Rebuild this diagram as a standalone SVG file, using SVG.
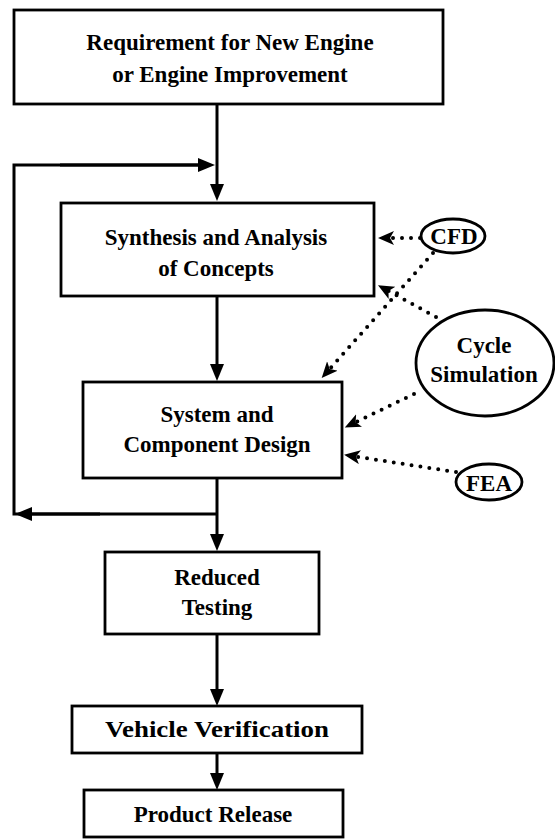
<svg xmlns="http://www.w3.org/2000/svg" width="555" height="839" viewBox="0 0 555 839">
<style>
.box{fill:#fff;stroke:#000;stroke-width:2.8}
.ell{fill:#fff;stroke:#000;stroke-width:2.8}
.t{font-family:"Liberation Serif","Times New Roman",serif;font-weight:bold;font-size:23px;text-anchor:middle;fill:#000}
.solid{fill:none;stroke:#000;stroke-width:3}
.dot{fill:none;stroke:#000;stroke-width:4;stroke-linecap:round;stroke-dasharray:0 9}
</style>
<defs>
<marker id="ah" markerUnits="userSpaceOnUse" markerWidth="18" markerHeight="16" refX="9" refY="7" orient="auto">
<path d="M0,0 L17,7 L0,14 Z" fill="#000"/>
</marker>
<marker id="dh" markerUnits="userSpaceOnUse" markerWidth="18" markerHeight="16" refX="8" refY="7" orient="auto">
<path d="M0,0 L16,7 L0,14 L4,7 Z" fill="#000"/>
</marker>
</defs>
<rect width="555" height="839" fill="#fff"/>
<g id="connectors">
<line class="solid" x1="217" y1="104" x2="217" y2="193" marker-end="url(#ah)"/>
<line class="solid" x1="217" y1="296" x2="217" y2="373" marker-end="url(#ah)"/>
<line class="solid" x1="217" y1="478" x2="217" y2="543" marker-end="url(#ah)"/>
<line class="solid" x1="217" y1="634" x2="217" y2="698" marker-end="url(#ah)"/>
<line class="solid" x1="217" y1="753" x2="217" y2="782" marker-end="url(#ah)"/>
<polyline class="solid" points="217,514 14,514 14,165 206,165"/>
<line class="solid" x1="60" y1="165" x2="207" y2="165" marker-end="url(#ah)"/>
<line class="solid" x1="100" y1="514" x2="23" y2="514" marker-end="url(#ah)"/>
<line class="dot" x1="420" y1="238" x2="386" y2="238" marker-end="url(#dh)"/>
<line class="dot" x1="433" y1="253" x2="327" y2="372" marker-end="url(#dh)"/>
<line class="dot" x1="436" y1="317" x2="385" y2="289" marker-end="url(#dh)"/>
<line class="dot" x1="414" y1="394" x2="352" y2="424" marker-end="url(#dh)"/>
<line class="dot" x1="456" y1="472" x2="352" y2="456" marker-end="url(#dh)"/>
</g>
<g id="n-requirement">
<rect class="box" x="14" y="10" width="429" height="94"/>
<text class="t" x="230" y="50">Requirement for New Engine</text>
<text class="t" x="230" y="82">or Engine Improvement</text>
</g>
<g id="n-synthesis">
<rect class="box" x="61" y="203" width="313" height="93"/>
<text class="t" x="216" y="245">Synthesis and Analysis</text>
<text class="t" x="216" y="276">of Concepts</text>
</g>
<g id="n-system">
<rect class="box" x="83" y="382" width="259" height="96"/>
<text class="t" x="217" y="422">System and</text>
<text class="t" x="217" y="452">Component Design</text>
</g>
<g id="n-reduced">
<rect class="box" x="105" y="552" width="214" height="82"/>
<text class="t" x="217" y="585">Reduced</text>
<text class="t" x="217" y="615">Testing</text>
</g>
<g id="n-vehicle">
<rect class="box" x="72" y="706" width="290" height="47"/>
<text class="t" x="217" y="737" textLength="224" lengthAdjust="spacingAndGlyphs">Vehicle Verification</text>
</g>
<g id="n-product">
<rect class="box" x="84" y="790" width="259" height="47"/>
<text class="t" x="213" y="822">Product Release</text>
</g>
<g id="n-cfd">
<ellipse class="ell" cx="453" cy="236" rx="32" ry="17"/>
<text class="t" x="454" y="244">CFD</text>
</g>
<g id="n-cycle">
<ellipse class="ell" cx="485" cy="363" rx="69" ry="53"/>
<text class="t" x="484" y="353">Cycle</text>
<text class="t" x="484" y="382">Simulation</text>
</g>
<g id="n-fea">
<ellipse class="ell" cx="489" cy="482" rx="33" ry="18"/>
<text class="t" x="489" y="491">FEA</text>
</g>
</svg>
